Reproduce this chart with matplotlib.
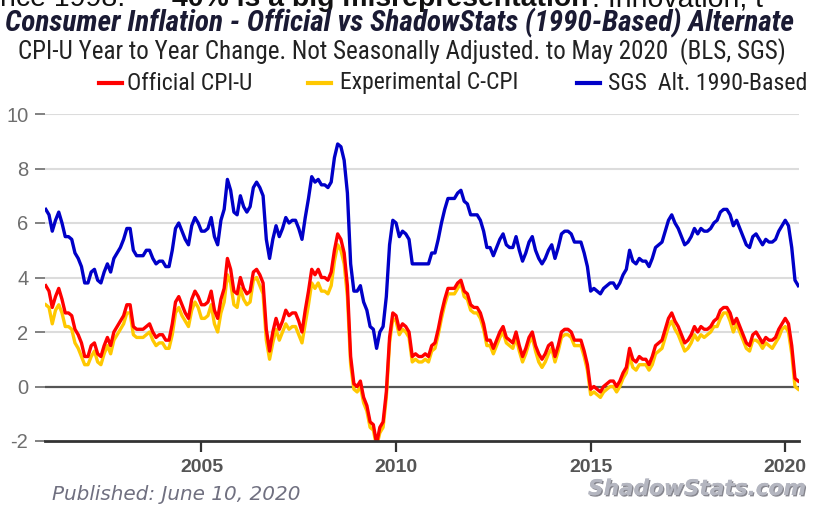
import matplotlib
matplotlib.use("Agg")
import matplotlib.pyplot as plt
from matplotlib.lines import Line2D
import matplotlib.patheffects as pe
from matplotlib import font_manager
import numpy as np

# ---------------- data (monthly, Jan 2001 - May 2020) ----------------
start_year = 2001
official_cpi_u = [
    3.7, 3.5, 2.9, 3.3, 3.6, 3.2, 2.7, 2.7, 2.6, 2.1, 1.9, 1.6,
    1.1, 1.1, 1.5, 1.6, 1.2, 1.1, 1.5, 1.8, 1.5, 2.0, 2.2, 2.4,
    2.6, 3.0, 3.0, 2.2, 2.1, 2.1, 2.1, 2.2, 2.3, 2.0, 1.8, 1.9,
    1.9, 1.7, 1.7, 2.3, 3.1, 3.3, 3.0, 2.7, 2.5, 3.2, 3.5, 3.3,
    3.0, 3.0, 3.1, 3.5, 2.8, 2.5, 3.2, 3.6, 4.7, 4.3, 3.5, 3.4,
    4.0, 3.6, 3.4, 3.5, 4.2, 4.3, 4.1, 3.8, 2.1, 1.3, 2.0, 2.5,
    2.1, 2.4, 2.8, 2.6, 2.7, 2.7, 2.4, 2.0, 2.8, 3.5, 4.3, 4.1,
    4.3, 4.0, 4.0, 3.9, 4.2, 5.0, 5.6, 5.4, 4.9, 3.7, 1.1, 0.1,
    0.0, 0.2, -0.4, -0.7, -1.3, -1.4, -2.1, -1.5, -1.3, -0.2, 1.8, 2.7,
    2.6, 2.1, 2.3, 2.2, 2.0, 1.1, 1.2, 1.1, 1.1, 1.2, 1.1, 1.5,
    1.6, 2.1, 2.7, 3.2, 3.6, 3.6, 3.6, 3.8, 3.9, 3.5, 3.4, 3.0,
    2.9, 2.9, 2.7, 2.3, 1.7, 1.7, 1.4, 1.7, 2.0, 2.2, 1.8, 1.7,
    1.6, 2.0, 1.5, 1.1, 1.4, 1.8, 2.0, 1.5, 1.2, 1.0, 1.2, 1.5,
    1.6, 1.1, 1.5, 2.0, 2.1, 2.1, 2.0, 1.7, 1.7, 1.7, 1.3, 0.8,
    -0.1, 0.0, -0.1, -0.2, 0.0, 0.1, 0.2, 0.2, 0.0, 0.2, 0.5, 0.7,
    1.4, 1.0, 0.9, 1.1, 1.0, 1.0, 0.8, 1.1, 1.5, 1.6, 1.7, 2.1,
    2.5, 2.7, 2.4, 2.2, 1.9, 1.6, 1.7, 1.9, 2.2, 2.0, 2.2, 2.1,
    2.1, 2.2, 2.4, 2.5, 2.8, 2.9, 2.9, 2.7, 2.3, 2.5, 2.2, 1.9,
    1.6, 1.5, 1.9, 2.0, 1.8, 1.6, 1.8, 1.7, 1.7, 1.8, 2.1, 2.3,
    2.5, 2.3, 1.5, 0.3, 0.2,
]
experimental_c_cpi = [
    3.0, 2.9, 2.3, 2.8, 3.0, 2.7, 2.2, 2.2, 2.1, 1.6, 1.4, 1.1,
    0.8, 0.8, 1.1, 1.3, 0.9, 0.8, 1.2, 1.5, 1.2, 1.7, 1.9, 2.1,
    2.3, 2.7, 2.7, 1.9, 1.8, 1.8, 1.8, 1.9, 2.0, 1.7, 1.5, 1.6,
    1.6, 1.4, 1.4, 1.9, 2.7, 2.9, 2.6, 2.4, 2.2, 2.8, 3.1, 2.9,
    2.5, 2.5, 2.6, 3.0, 2.3, 2.0, 2.7, 3.1, 4.1, 3.8, 3.0, 2.9,
    3.6, 3.2, 3.0, 3.1, 3.9, 4.0, 3.7, 3.4, 1.7, 1.0, 1.6, 2.1,
    1.7, 2.0, 2.3, 2.1, 2.2, 2.2, 1.9, 1.6, 2.3, 3.0, 3.8, 3.6,
    3.8, 3.5, 3.5, 3.4, 3.7, 4.6, 5.2, 5.0, 4.5, 3.3, 0.8, -0.1,
    -0.2, 0.0, -0.6, -0.9, -1.5, -1.6, -2.2, -1.7, -1.5, -0.4, 1.6, 2.5,
    2.4, 1.9, 2.1, 2.0, 1.8, 0.9, 1.0, 0.9, 0.9, 1.0, 0.9, 1.3,
    1.4, 1.9, 2.5, 3.0, 3.4, 3.4, 3.4, 3.6, 3.8, 3.3, 3.2, 2.8,
    2.7, 2.7, 2.5, 2.1, 1.5, 1.5, 1.2, 1.5, 1.8, 2.0, 1.6, 1.5,
    1.4, 1.8, 1.3, 0.9, 1.2, 1.6, 1.8, 1.3, 0.9, 0.7, 0.9, 1.2,
    1.4, 0.9, 1.3, 1.8, 1.9, 1.9, 1.8, 1.5, 1.5, 1.5, 1.1, 0.6,
    -0.3, -0.2, -0.3, -0.4, -0.2, -0.1, 0.0, 0.0, -0.2, 0.0, 0.3, 0.5,
    1.1, 0.7, 0.6, 0.8, 0.8, 0.8, 0.6, 0.8, 1.2, 1.3, 1.4, 1.8,
    2.2, 2.4, 2.1, 1.9, 1.6, 1.3, 1.4, 1.6, 1.9, 1.7, 1.9, 1.8,
    1.9, 2.0, 2.2, 2.2, 2.5, 2.7, 2.7, 2.4, 2.0, 2.3, 2.0, 1.7,
    1.4, 1.3, 1.7, 1.7, 1.6, 1.4, 1.6, 1.5, 1.4, 1.6, 1.8, 2.1,
    2.2, 2.0, 1.2, 0.0, -0.1,
]
sgs_alt_1990 = [
    6.5, 6.3, 5.7, 6.1, 6.4, 6.0, 5.5, 5.5, 5.4, 4.9, 4.7, 4.4,
    3.8, 3.8, 4.2, 4.3, 3.9, 3.8, 4.2, 4.5, 4.2, 4.7, 4.9, 5.1,
    5.4, 5.8, 5.8, 5.0, 4.8, 4.8, 4.8, 5.0, 5.0, 4.7, 4.5, 4.6,
    4.6, 4.4, 4.4, 5.0, 5.8, 6.0, 5.7, 5.4, 5.2, 5.9, 6.2, 6.0,
    5.7, 5.7, 5.8, 6.2, 5.5, 5.2, 6.1, 6.5, 7.6, 7.2, 6.4, 6.3,
    7.0, 6.6, 6.4, 6.6, 7.3, 7.5, 7.3, 7.0, 5.4, 4.7, 5.4, 5.9,
    5.5, 5.8, 6.2, 6.0, 6.1, 6.1, 5.8, 5.4, 6.2, 6.9, 7.7, 7.5,
    7.6, 7.4, 7.4, 7.3, 7.5, 8.4, 8.9, 8.8, 8.3, 7.1, 4.5, 3.5,
    3.5, 3.7, 3.1, 2.8, 2.2, 2.1, 1.4, 2.0, 2.2, 3.3, 5.2, 6.1,
    6.0, 5.5, 5.7, 5.6, 5.4, 4.5, 4.5, 4.5, 4.5, 4.5, 4.5, 4.9,
    4.9, 5.4, 6.0, 6.5, 6.9, 6.9, 6.9, 7.1, 7.2, 6.8, 6.7, 6.3,
    6.3, 6.3, 6.1, 5.7, 5.1, 5.1, 4.8, 5.1, 5.4, 5.6, 5.2, 5.1,
    5.1, 5.5, 5.0, 4.6, 4.9, 5.3, 5.5, 5.0, 4.7, 4.5, 4.7, 5.0,
    5.2, 4.7, 5.1, 5.6, 5.7, 5.7, 5.6, 5.3, 5.3, 5.3, 4.9, 4.4,
    3.5, 3.6, 3.5, 3.4, 3.6, 3.7, 3.8, 3.8, 3.6, 3.8, 4.1, 4.3,
    5.0, 4.6, 4.5, 4.7, 4.6, 4.6, 4.4, 4.7, 5.1, 5.2, 5.3, 5.7,
    6.1, 6.3, 6.0, 5.8, 5.5, 5.2, 5.3, 5.5, 5.8, 5.6, 5.8, 5.7,
    5.7, 5.8, 6.0, 6.1, 6.4, 6.5, 6.5, 6.3, 5.9, 6.1, 5.8, 5.5,
    5.2, 5.1, 5.5, 5.6, 5.4, 5.2, 5.4, 5.3, 5.3, 5.4, 5.7, 5.9,
    6.1, 5.9, 5.1, 3.9, 3.7,
]
x_ticks = [2005, 2010, 2015, 2020]
y_ticks = [-2, 0, 2, 4, 6, 8, 10]

series_names = ["Official CPI-U", "Experimental C-CPI", "SGS  Alt. 1990-Based"]
series_colors = ["#ff0000", "#ffc800", "#0000c8"]

title = "Consumer Inflation - Official vs ShadowStats (1990-Based) Alternate"
subtitle = "CPI-U Year to Year Change. Not Seasonally Adjusted. to May 2020  (BLS, SGS)"
published = "Published: June 10, 2020"
brand = "ShadowStats.com"
article_parts = ["nce 1998.", "40% is a big misrepresentation", ". Innovation, t"]

# ---------------- fonts ----------------
available = {f.name for f in font_manager.fontManager.ttflist}
narrow_pref = ["Liberation Sans Narrow", "Arial Narrow", "Roboto Condensed",
               "Open Sans Condensed", "DejaVu Sans Condensed"]
NARROW = [f for f in narrow_pref if f in available] + ["Liberation Sans", "DejaVu Sans"]
NARROW = NARROW[:1] + ["DejaVu Sans"]
ARIAL = ["Liberation Sans", "DejaVu Sans"]

# ---------------- figure ----------------
W, H = 822, 507
fig = plt.figure(figsize=(W / 100, H / 100), dpi=100)
fig.patch.set_facecolor("white")

ax = fig.add_axes([45 / W, 1 - 441 / H, (799 - 45) / W, (441 - 114) / H])
ax.set_facecolor("white")

n = len(official_cpi_u)
t = start_year + np.arange(n) / 12.0

ax.plot(t, experimental_c_cpi, color=series_colors[1], lw=2.4, zorder=3,
        solid_joinstyle="round")
ax.plot(t, official_cpi_u, color=series_colors[0], lw=2.4, zorder=4,
        solid_joinstyle="round")
ax.plot(t, sgs_alt_1990, color=series_colors[2], lw=2.4, zorder=5,
        solid_joinstyle="round")

ax.set_xlim(start_year - 0.02, start_year + (n - 1) / 12.0 + 0.02)
ax.set_ylim(-2, 10)

for s in ["top", "right", "left"]:
    ax.spines[s].set_visible(False)
ax.spines["bottom"].set_color("#333333")
ax.spines["bottom"].set_linewidth(2.0)
ax.spines["bottom"].set_zorder(6)

for v in y_ticks:
    if v == 0:
        ax.axhline(v, color="#555555", lw=1.6, zorder=2)
    elif v != -2:
        ax.axhline(v, color="#dcdcdc", lw=1.5, zorder=1)

ax.set_yticks(y_ticks)
ax.set_yticklabels([str(v) for v in y_ticks])
ax.tick_params(axis="y", length=7, width=1.3, color="#777777", pad=5,
               labelsize=14.5, labelcolor="#6e6e6e")
for lab in ax.get_yticklabels():
    lab.set_family(ARIAL)

ax.set_xticks(x_ticks)
ax.set_xticklabels([str(v) for v in x_ticks])
ax.tick_params(axis="x", direction="out", length=8, width=1.6, color="#333333",
               pad=5, labelsize=14, labelcolor="#555555")
for lab in ax.get_xticklabels():
    lab.set_family(ARIAL)
    lab.set_fontweight("bold")

renderer = fig.canvas.get_renderer()


def fit_text(s, x0, x1, yc, size=14, va="center", **kw):
    txt = fig.text(x0 / W, 1 - yc / H, s, ha="left", va=va, fontsize=size, **kw)
    bb = txt.get_window_extent(renderer)
    if bb.width > 0:
        txt.set_fontsize(size * (x1 - x0) / bb.width)
    return txt


# cut-off article text at the very top (only its lower part is visible)
mid = fit_text(article_parts[1], 172, 588, 6, size=20, va="baseline",
               family=ARIAL, weight="bold", color="#111111")
art_size = mid.get_fontsize()
fig.text(0 / W, 1 - 6 / H, article_parts[0], ha="left", va="baseline",
         fontsize=art_size, family=ARIAL, color="#111111")
fig.text(592 / W, 1 - 6 / H, article_parts[2], ha="left", va="baseline",
         fontsize=art_size, family=ARIAL, color="#111111")

# title & subtitle
fit_text(title, 5, 795, 23, size=16, family=NARROW, weight="bold",
         style="italic", color="#1a1a33")
fit_text(subtitle, 18, 786, 52, size=13, family=NARROW, color="#222222")

# legend (manual)
legend_items = [
    (series_names[0], series_colors[0], 99, 127, 252),
    (series_names[1], series_colors[1], 308, 340, 518),
    (series_names[2], series_colors[2], 577, 608, 806),
]
for name, col, lx, tx0, tx1 in legend_items:
    fig.add_artist(Line2D([lx / W, (lx + 23) / W], [1 - 83 / H, 1 - 83 / H],
                          color=col, lw=3.0, transform=fig.transFigure))
    fit_text(name, tx0, tx1, 83, size=13, family=NARROW, color="#222222")

# footer
fit_text(published, 52, 300, 494, size=12, family=["DejaVu Sans"],
         style="italic", color="#707080")
b = fit_text(brand, 588, 806, 489, size=16, family=["DejaVu Sans"],
             weight="bold", style="italic", color="#b4b6c0")
b.set_path_effects([pe.withSimplePatchShadow(offset=(1, -1), shadow_rgbFace="#555560",
                                              alpha=0.7), pe.Normal()])

fig.savefig("out.png", dpi=100, facecolor="white")
